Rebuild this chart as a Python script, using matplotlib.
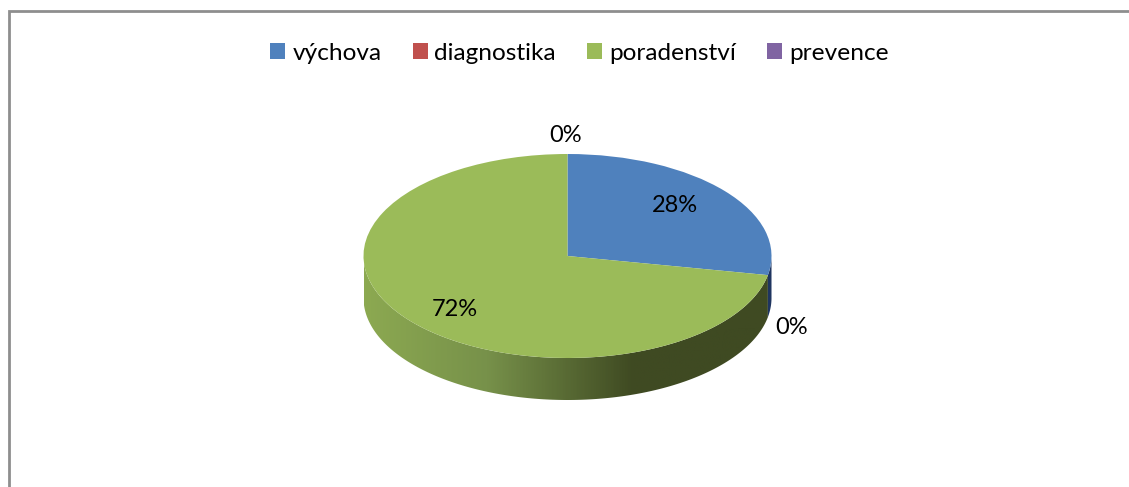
import numpy as np
import matplotlib.pyplot as plt
from matplotlib.colors import LinearSegmentedColormap
from matplotlib.patches import Polygon

plt.rcParams['font.family'] = ['Lato', 'DejaVu Sans']

labels = ['výchova', 'diagnostika', 'poradenství', 'prevence']
values = [28, 0, 72, 0]
colors = ['#4F81BD', '#C0504D', '#9BBB59', '#8064A2']

W, H = 1129, 487
CX, CY = 567.5, 256
RX, RY = 204, 102
DEPTH = 42 / RY

fig = plt.figure(figsize=(W / 100, H / 100), dpi=100)
ax = fig.add_axes([0, 0, 1, 1])


# pie units <-> pixels
def px(x, y):
    return (x - CX) / RX, (CY - y) / RY


def wall(a, b):
    t = np.radians(np.linspace(a, b, 200))
    xs, ys = np.cos(t), np.sin(t)
    return np.r_[np.c_[xs, ys], np.c_[xs, ys - DEPTH][::-1]]


wedges, _ = ax.pie(values, colors=colors, startangle=90, counterclock=False, radius=1,
                   center=(0, 0), frame=False, wedgeprops={'linewidth': 0})
for w in wedges:
    w.set_zorder(3)
ax.set_aspect('auto')

# side of the pie, green part has a gradient going dark to the right
edge = 90 - values[0] * 3.6 + 360
gradient = LinearSegmentedColormap.from_list('side', [(0, '#8CA951'), (0.3, '#77914A'),
                                                      (0.66, '#3F4A22'), (1, '#3F4A22')])
img = ax.imshow(np.linspace(0, 1, 400).reshape(1, -1), cmap=gradient, aspect='auto',
                extent=(-1, 1, -1 - DEPTH, 0), zorder=1)
side = Polygon(wall(180, edge), closed=True, transform=ax.transData, fc='none', ec='none')
ax.add_patch(side)
img.set_clip_path(side)
ax.add_patch(Polygon(wall(edge, 360), closed=True, fc='#1F3560', ec='none', zorder=1))

# chart frame, only top and left are in the crop
x0, y0 = px(9, 11.3)
x1, y1 = px(W, H)
ax.plot([x0, x0, x1], [y1, y0, y0], color='#8E8E8E', lw=2, zorder=2, clip_on=False,
        solid_joinstyle='miter')

# data labels
label_px = [(675, 206), (792, 327), (455, 310), (566, 135)]
for v, (lx, ly) in zip(values, label_px):
    tx, ty = px(lx, ly)
    ax.text(tx, ty, f'{v}%', ha='center', va='center', fontsize=17, color='black', zorder=5)

leg_x, leg_y = px(579.5, 53)
ax.legend(wedges, labels, ncol=4, loc='center', bbox_to_anchor=(leg_x, leg_y),
          bbox_transform=ax.transData, frameon=False, fontsize=17.6,
          handlelength=0.61, handleheight=0.61, handletextpad=0.28, columnspacing=1.28,
          borderpad=0, borderaxespad=0)

ax.set_xlim(px(0, 0)[0], px(W, 0)[0])
ax.set_ylim(px(0, H)[1], px(0, 0)[1])
ax.axis('off')

fig.savefig('out.png', dpi=100, facecolor='white')
